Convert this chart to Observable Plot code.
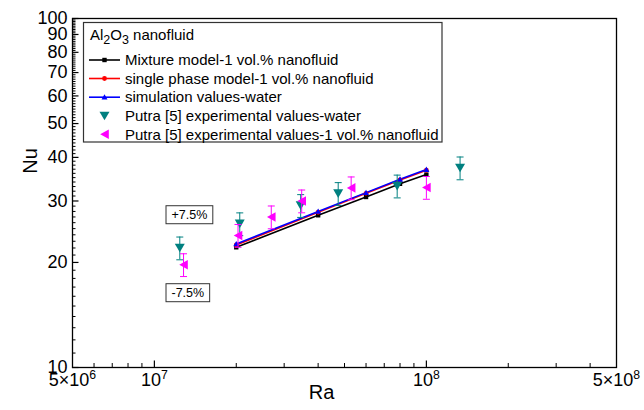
<!DOCTYPE html>
<html><head><meta charset="utf-8">
<script src="https://cdn.jsdelivr.net/npm/d3@7"></script>
<script src="https://cdn.jsdelivr.net/npm/@observablehq/plot@0.6"></script>
<style>
body{margin:0;background:#fff;}
#chart svg{font-family:"Liberation Sans",Arial,Helvetica,sans-serif;}
</style></head><body><div id="chart"></div>
<script>
// ---- data ----
const raModel = [2e7, 4e7, 6e7, 8e7, 1e8];
const nuMixture = [22.1, 27.3, 30.8, 33.6, 35.7];
const nuSingle = [22.45, 27.85, 31.55, 34.45, 36.75];
const nuWaterSim = [22.6, 28.0, 31.7, 34.6, 36.9];
const raExpWater = [1.24e7, 2.06e7, 3.45e7, 4.74e7, 7.81e7, 1.33e8];
const nuExpWater = [22.0, 25.8, 29.1, 31.5, 33.1, 37.3];
const raExpNano = [1.28e7, 2.03e7, 2.69e7, 3.48e7, 5.29e7, 1.0e8];
const nuExpNano = [19.7, 23.9, 27.0, 30.0, 32.7, 32.8];
const errFraction = 0.075;
const xTickValues = [5e6, 1e7, 1e8, 5e8];
const xTickLabels = ["5×10^6", "10^7", "10^8", "5×10^8"];
const yTickValues = [10, 20, 30, 40, 50, 60, 70, 80, 90, 100];
const annotations = [{label: "+7.5%", ra: 1.156e7, nu: 27.4}, {label: "-7.5%", ra: 1.156e7, nu: 16.38}];
const legendTitleParts = [["Al", false], ["2", true], ["O", false], ["3", true], [" nanofluid", false]];
const seriesNames = ["Mixture model-1 vol.% nanofluid", "single phase model-1 vol.% nanofluid", "simulation values-water",
  "Putra [5] experimental values-water", "Putra [5] experimental values-1 vol.% nanofluid"];

// ---- layout ----
const W = 644, H = 410, mL = 72, mR = 28, mT = 18, mB = 43;
const innerW = W - mL - mR, innerH = H - mT - mB;
const TEAL = "#008080", MAG = "#ff00ff";
const FONT = '"Liberation Sans",Arial,Helvetica,sans-serif';

const model = raModel.map((ra, i) => ({ra, mix: nuMixture[i], single: nuSingle[i], water: nuWaterSim[i]}));
const expW = raExpWater.map((ra, i) => ({ra, nu: nuExpWater[i]}));
const expN = raExpNano.map((ra, i) => ({ra, nu: nuExpNano[i]}));

const xMinor = [];
[1e6, 1e7, 1e8].forEach(d => { for (let k = 2; k <= 9; k++) { const v = k * d; if (v > 5e6 && v < 5e8) xMinor.push(v); } });
const xMajor = [1e7, 1e8];
const yMinor = d3.range(11, 100).filter(v => v % 10 !== 0);

const capSym = {draw(ctx) { ctx.moveTo(-3.5, 0); ctx.lineTo(3.5, 0); }};
const triDown = {draw(ctx) { ctx.moveTo(-5, -4.3); ctx.lineTo(5, -4.3); ctx.lineTo(0, 4.3); ctx.closePath(); }};
const triLeft = {draw(ctx) { ctx.moveTo(-4.3, 0); ctx.lineTo(4.3, -4.8); ctx.lineTo(4.3, 4.8); ctx.closePath(); }};
const sq = {draw(ctx) { ctx.rect(-2.2, -2.2, 4.4, 4.4); }};
const circ = {draw(ctx) { ctx.moveTo(2.4, 0); ctx.arc(0, 0, 2.4, 0, 2 * Math.PI); }};
const triUp = {draw(ctx) { ctx.moveTo(0, -3); ctx.lineTo(3, 2.4); ctx.lineTo(-3, 2.4); ctx.closePath(); }};

function errMarks(data, color, sym) {
  return [
    Plot.ruleX(data, {x: "ra", y1: d => d.nu * (1 - errFraction), y2: d => d.nu * (1 + errFraction), stroke: color, strokeWidth: 1}),
    Plot.dot(data, {x: "ra", y: d => d.nu * (1 + errFraction), symbol: capSym, stroke: color, fill: "none", strokeWidth: 1}),
    Plot.dot(data, {x: "ra", y: d => d.nu * (1 - errFraction), symbol: capSym, stroke: color, fill: "none", strokeWidth: 1}),
    Plot.dot(data, {x: "ra", y: "nu", symbol: sym, fill: color, stroke: "none"})
  ];
}

const plot = Plot.plot({
  width: W, height: H, marginLeft: mL, marginRight: mR, marginTop: mT, marginBottom: mB,
  style: {fontFamily: FONT, background: "#fff", color: "black"},
  x: {type: "log", domain: [5e6, 5e8], axis: null},
  y: {type: "log", domain: [10, 100], axis: null},
  marks: [
    // ticks (inward)
    Plot.ruleX(xMinor, {x: d => d, insetTop: innerH - 4, stroke: "black", strokeWidth: 1}),
    Plot.ruleX(xMajor, {x: d => d, insetTop: innerH - 6.5, stroke: "black", strokeWidth: 1.2}),
    Plot.ruleY(yMinor, {y: d => d, insetRight: innerW - 3.5, stroke: "black", strokeWidth: 1}),
    Plot.ruleY(yTickValues, {y: d => d, insetRight: innerW - 6.5, stroke: "black", strokeWidth: 1.2}),
    // tick labels
    Plot.text(xTickValues, {x: d => d, text: (d, i) => xTickLabels[i], frameAnchor: "bottom", dy: 18, fontSize: 18, fill: "black"}),
    Plot.text(yTickValues, {y: d => d, text: d => String(d), frameAnchor: "left", dx: -5, textAnchor: "end", fontSize: 18, fill: "black"}),
    // x axis title
    Plot.text(["Ra"], {frameAnchor: "bottom", dx: -23, dy: 31, fontSize: 20, fill: "black"}),
    // model lines
    Plot.line(model, {x: "ra", y: "mix", stroke: "black", strokeWidth: 1.6}),
    Plot.line(model, {x: "ra", y: "single", stroke: "red", strokeWidth: 1.6}),
    Plot.line(model, {x: "ra", y: "water", stroke: "blue", strokeWidth: 1.6}),
    Plot.dot(model, {x: "ra", y: "mix", symbol: sq, fill: "black", stroke: "none"}),
    Plot.dot(model, {x: "ra", y: "single", symbol: circ, fill: "red", stroke: "none"}),
    Plot.dot(model, {x: "ra", y: "water", symbol: triUp, fill: "blue", stroke: "none"}),
    // experimental
    ...errMarks(expW, TEAL, triDown),
    ...errMarks(expN, MAG, triLeft),
    // annotations
    Plot.text(annotations, {x: "ra", y: "nu", text: "label", textAnchor: "start", fontSize: 12.5, fill: "black"}),
    Plot.frame({stroke: "black", strokeWidth: 1.3})
  ]
});
document.getElementById("chart").appendChild(plot);

const svg = d3.select(plot);
// superscripts in x tick labels
svg.selectAll("text").each(function () {
  const s = this.textContent;
  if (s.includes("^")) {
    const t = d3.select(this);
    const [base, exp] = s.split("^");
    t.selectAll("*").remove();
    t.text(null);
    t.append("tspan").text(base);
    t.append("tspan").attr("dy", "-0.55em").attr("font-size", "0.68em").text(exp);
  }
});
// boxes around annotation texts
svg.selectAll("text").each(function () {
  if (!annotations.some(a => a.label === this.textContent)) return;
  const b = this.getBBox();
  const tr = this.getAttribute("transform");
  const r = d3.select(this.parentNode).insert("rect", () => this)
    .attr("x", b.x - 5.5).attr("y", b.y - 2).attr("width", b.width + 11).attr("height", b.height + 4)
    .attr("fill", "white").attr("stroke", "#333").attr("stroke-width", 1);
  if (tr) r.attr("transform", tr);
});

// y axis title
svg.append("text").attr("transform", "translate(30,161) rotate(-90)").attr("text-anchor", "middle")
  .attr("dy", "0.35em").attr("font-size", 20).attr("font-family", FONT).attr("fill", "black").text("Nu");

// legend
const lg = svg.append("g").attr("font-family", FONT).attr("font-size", 15).attr("text-anchor", "start");
lg.append("rect").attr("x", 83.5).attr("y", 22.5).attr("width", 358.5).attr("height", 119.5)
  .attr("fill", "white").attr("stroke", "#333").attr("stroke-width", 1.2);
const tt = lg.append("text").attr("x", 90).attr("y", 40).attr("fill", "black");
let sub = false;
legendTitleParts.forEach(([p, isSub]) => {
  const dy = isSub && !sub ? 4 : (!isSub && sub ? -4 : 0);
  const ts = tt.append("tspan").attr("dy", dy).text(p);
  if (isSub) ts.attr("font-size", 12.5);
  sub = isSub;
});
const rowsY = [60, 78.5, 97.2, 116, 134.3];
const legendItems = [
  {name: seriesNames[0], color: "black", sym: sq, line: true},
  {name: seriesNames[1], color: "red", sym: circ, line: true},
  {name: seriesNames[2], color: "blue", sym: triUp, line: true},
  {name: seriesNames[3], color: TEAL, sym: triDown, line: false},
  {name: seriesNames[4], color: MAG, sym: triLeft, line: false}
];
legendItems.forEach((it, i) => {
  const y = rowsY[i];
  if (it.line) lg.append("line").attr("x1", 89).attr("x2", 120).attr("y1", y).attr("y2", y).attr("stroke", it.color).attr("stroke-width", 1.6);
  lg.append("path").attr("d", d3.symbol(it.sym)()).attr("transform", `translate(104.5,${y})`).attr("fill", it.color);
  lg.append("text").attr("x", 125).attr("y", y).attr("dy", "0.35em").attr("fill", "black").text(it.name);
});
</script></body></html>
